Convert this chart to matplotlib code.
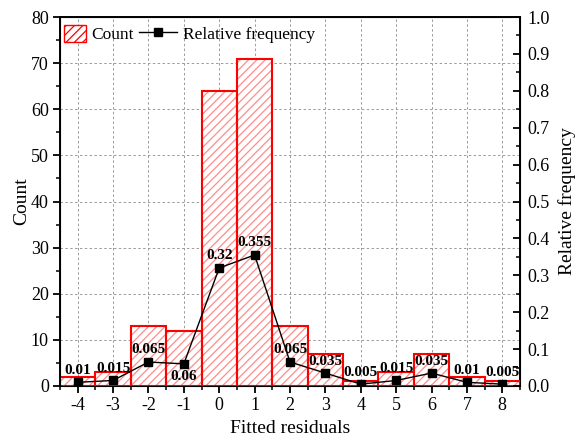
import matplotlib
matplotlib.use("Agg")
import matplotlib.pyplot as plt
from matplotlib.ticker import MultipleLocator, FormatStrFormatter
from matplotlib.patches import Patch, Rectangle
from matplotlib.lines import Line2D
from matplotlib.legend_handler import HandlerPatch

plt.rcParams['font.family'] = ['Liberation Serif', 'DejaVu Serif']
plt.rcParams['hatch.linewidth'] = 0.9
plt.rcParams['axes.unicode_minus'] = False

residuals = [-4, -3, -2, -1, 0, 1, 2, 3, 4, 5, 6, 7, 8]
counts = [2, 3, 13, 12, 64, 71, 13, 7, 1, 3, 7, 2, 1]
rel_freq = [0.01, 0.015, 0.065, 0.06, 0.32, 0.355, 0.065, 0.035, 0.005, 0.015, 0.035, 0.01, 0.005]
freq_labels = ["0.01", "0.015", "0.065", "0.06", "0.32", "0.355", "0.065", "0.035",
               "0.005", "0.015", "0.035", "0.01", "0.005"]
label_below = [False, False, False, True, False, False, False, False, False, False, False, False, False]

fig = plt.figure(figsize=(5.75, 4.38), dpi=100)
ax = fig.add_axes([60 / 575, 1 - 386 / 438, 460 / 575, 369 / 438])

# hatched fill, then the outline on top
ax.bar(residuals, counts, width=1.0, color='white', edgecolor='#ff8c8c',
       hatch='////', linewidth=0, zorder=2)
ax.bar(residuals, counts, width=1.0, fill=False, edgecolor='#ff0000',
       linewidth=1.5, zorder=3)

ax.set_xlim(-4.5, 8.5)
ax.set_ylim(0, 80)
ax.xaxis.set_major_locator(MultipleLocator(1))
ax.xaxis.set_minor_locator(MultipleLocator(0.5))
ax.yaxis.set_major_locator(MultipleLocator(10))
ax.yaxis.set_minor_locator(MultipleLocator(5))
ax.grid(True, which='major', linestyle=(0, (2.5, 2.5)), color='#9a9a9a',
        linewidth=0.7, zorder=0)
ax.set_axisbelow(True)
ax.tick_params(axis='both', which='major', direction='out', length=5, width=1.3,
               labelsize=13, pad=3)
ax.tick_params(axis='both', which='minor', direction='out', length=3, width=1.1)
ax.tick_params(axis='x', top=False, which='both')
for s in ax.spines.values():
    s.set_linewidth(1.4)
ax.set_xlabel("Fitted residuals", fontsize=14, labelpad=4)
ax.set_ylabel("Count", fontsize=14, labelpad=0.5)

ax2 = ax.twinx()
ax2.set_ylim(0, 1.0)
ax2.yaxis.set_major_locator(MultipleLocator(0.1))
ax2.yaxis.set_minor_locator(MultipleLocator(0.05))
ax2.yaxis.set_major_formatter(FormatStrFormatter('%.1f'))
ax2.tick_params(axis='y', which='major', direction='in', length=5, width=1.3,
                labelsize=13, pad=5)
ax2.tick_params(axis='y', which='minor', direction='in', length=3, width=1.1)
ax2.set_ylabel("Relative frequency", fontsize=14, labelpad=6)
ax2.plot(residuals, rel_freq, color='black', linewidth=1.0, marker='s',
         markersize=5.8, zorder=5)

for x, y, lab, below in zip(residuals, rel_freq, freq_labels, label_below):
    off = -4.5 if below else 4
    ax2.annotate(lab, (x, y), xytext=(0, off), textcoords='offset points',
                 ha='center', va='top' if below else 'bottom',
                 fontsize=11, fontweight='bold')


class NarrowPatchHandler(HandlerPatch):
    """Draws the hatched swatch narrower than the line handle, right-aligned."""

    def create_artists(self, legend, orig_handle, xdescent, ydescent, width,
                       height, fontsize, trans):
        w = width * 0.58
        p = Rectangle((width - w - xdescent, -ydescent), w, height,
                      facecolor='white', edgecolor='#ff0000', hatch='////',
                      linewidth=1.0, transform=trans)
        return [p]


handles = [Patch(facecolor='white', edgecolor='#ff0000', hatch='////'),
           Line2D([0], [0], color='black', marker='s', markersize=5.8, linewidth=1.0)]
ax.legend(handles, ["Count", "Relative frequency"], loc='center left', ncol=2,
          frameon=False, fontsize=12.5, handlelength=2.2, handleheight=1.15,
          columnspacing=0.3, handletextpad=0.3, borderpad=0.4,
          bbox_to_anchor=(-0.06, (386 - 34) / 369),
          handler_map={Patch: NarrowPatchHandler()})

fig.savefig("out.png", dpi=100)
